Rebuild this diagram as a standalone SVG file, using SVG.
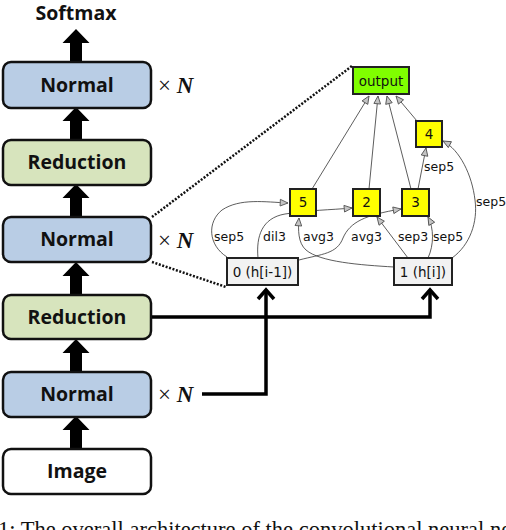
<svg xmlns="http://www.w3.org/2000/svg" width="506" height="530" viewBox="0 0 506 530">
<style>
.blk{stroke:#111;stroke-width:2.5}
.normal{fill:#B9CDE5}
.red{fill:#D7E4BD}
.img{fill:#fff}
.big{font-family:"Open Sans","Liberation Sans",sans-serif;font-weight:bold;font-size:19.5px;fill:#111;text-anchor:middle}
.times{font-family:"Liberation Serif",serif;font-size:23px;fill:#111}
.cell{stroke:#222;stroke-width:2}
.yel{fill:#FFFF00}
.out{fill:#80FF00}
.inp{fill:#F2F2F2}
.nt{font-family:"DejaVu Sans",Verdana,sans-serif;font-size:13.5px;fill:#111;text-anchor:middle}
.lbl{font-family:"DejaVu Sans",Verdana,sans-serif;font-size:12.5px;fill:#111}
.edge{fill:none;stroke:#333;stroke-width:0.8;marker-end:url(#tri)}
.thick{fill:none;stroke:#000;stroke-width:3.5}
.dot{fill:none;stroke:#111;stroke-width:2.5;stroke-dasharray:2 1.6}
</style>
<defs>
<marker id="tri" markerUnits="userSpaceOnUse" markerWidth="10" markerHeight="10" viewBox="-1 -1 9 8" refX="7" refY="3" orient="auto">
<path d="M0,0 L7,3 L0,6 Z" fill="#C4C4C4" stroke="#555" stroke-width="0.8"/>
</marker>
<path id="bigArrow" d="M0,0 L13.5,14 L6,14 L6,33 L-6,33 L-6,14 L-13.5,14 Z" fill="#000"/>
</defs>

<g id="column-arrows">
<use href="#bigArrow" x="76" y="29"/>
<use href="#bigArrow" x="76" y="107"/>
<use href="#bigArrow" x="76" y="184"/>
<use href="#bigArrow" x="76" y="262"/>
<use href="#bigArrow" x="76" y="339"/>
<use href="#bigArrow" x="76" y="416"/>
</g>

<g id="softmax"><text class="big" x="76" y="20">Softmax</text></g>
<g id="normal1"><rect class="blk normal" x="3" y="62" width="148" height="46" rx="8"/><text class="big" x="77" y="92">Normal</text></g>
<g id="reduction1"><rect class="blk red" x="3" y="140" width="148" height="45" rx="8"/><text class="big" x="77" y="169">Reduction</text></g>
<g id="normal2"><rect class="blk normal" x="3" y="217" width="148" height="45" rx="8"/><text class="big" x="77" y="246">Normal</text></g>
<g id="reduction2"><rect class="blk red" x="3" y="295" width="148" height="44" rx="8"/><text class="big" x="77" y="324">Reduction</text></g>
<g id="normal3"><rect class="blk normal" x="3" y="372" width="148" height="45" rx="8"/><text class="big" x="77" y="401">Normal</text></g>
<g id="image"><rect class="blk img" x="3" y="449" width="148" height="45" rx="8"/><text class="big" x="77" y="478">Image</text></g>

<g id="timesN">
<text class="times" x="158" y="93">× <tspan font-weight="bold" font-style="italic">N</tspan></text>
<text class="times" x="158" y="248">× <tspan font-weight="bold" font-style="italic">N</tspan></text>
<text class="times" x="158" y="402">× <tspan font-weight="bold" font-style="italic">N</tspan></text>
</g>

<g id="connectors">
<path class="dot" d="M152,217 L352,66"/>
<path class="dot" d="M152,262 L226,287"/>
<path class="thick" d="M152,317 L430,317 L430,290"/>
<path class="thick" d="M422,299 L430,290 L438,299"/>
<path class="thick" d="M202,394 L266,394 L266,290"/>
<path class="thick" d="M258,299 L266,290 L274,299"/>

<path class="edge" d="M312,189 L369,96"/>
<path class="edge" d="M369,189 L378,96"/>
<path class="edge" d="M411,189 L387,96"/>
<path class="edge" d="M417,121 L396,96"/>
<path class="edge" d="M418,189 L426,148"/>
<path class="edge" d="M452,258 C470,245 478,222 475,200 C472,175 460,150 443,141"/>
<path class="edge" d="M428,258 C434,245 434,228 428,217"/>
<path class="edge" d="M408,258 L377,217"/>
<path class="edge" d="M227,257 C208,245 207,222 222,210 C240,198 265,202 288,203"/>
<path class="edge" d="M258,258 C256,236 262,218 285,214 C310,210 330,210 352,208"/>
<path class="edge" d="M394,267 C360,265 320,262 306,250 C298,243 298,230 299,218"/>
<path class="edge" d="M299,260 C322,254 337,254 343,238 C350,222 365,215 401,209"/>
</g>

<g id="labels">
<text class="lbl" x="214" y="241">sep5</text>
<text class="lbl" x="263" y="241">dil3</text>
<text class="lbl" x="303" y="241">avg3</text>
<text class="lbl" x="351" y="241">avg3</text>
<text class="lbl" x="398" y="241">sep3</text>
<text class="lbl" x="433" y="241">sep5</text>
<text class="lbl" x="424" y="171">sep5</text>
<text class="lbl" x="476" y="206">sep5</text>
</g>

<g id="node-output"><rect class="cell out" x="353" y="67" width="56" height="27"/><text class="nt" x="381" y="85.5">output</text></g>
<g id="node-4"><rect class="cell yel" x="416" y="121" width="26" height="26"/><text class="nt" x="429" y="139">4</text></g>
<g id="node-5"><rect class="cell yel" x="290" y="189" width="26" height="27"/><text class="nt" x="303" y="207">5</text></g>
<g id="node-2"><rect class="cell yel" x="353" y="189" width="27" height="27"/><text class="nt" x="366.5" y="207">2</text></g>
<g id="node-3"><rect class="cell yel" x="402" y="189" width="27" height="27"/><text class="nt" x="415.5" y="207">3</text></g>
<g id="node-0"><rect class="cell inp" x="227" y="258" width="71" height="27"/><text class="nt" x="262.5" y="276.5" font-size="13">0 (h[i-1])</text></g>
<g id="node-1"><rect class="cell inp" x="394" y="258" width="58" height="27"/><text class="nt" x="423" y="276.5" font-size="13">1 (h[i])</text></g>

<g id="caption"><text x="-2" y="537" font-family="Liberation Serif,serif" font-size="22.5" fill="#111">1: The overall architecture of the convolutional neural network</text></g>
</svg>
